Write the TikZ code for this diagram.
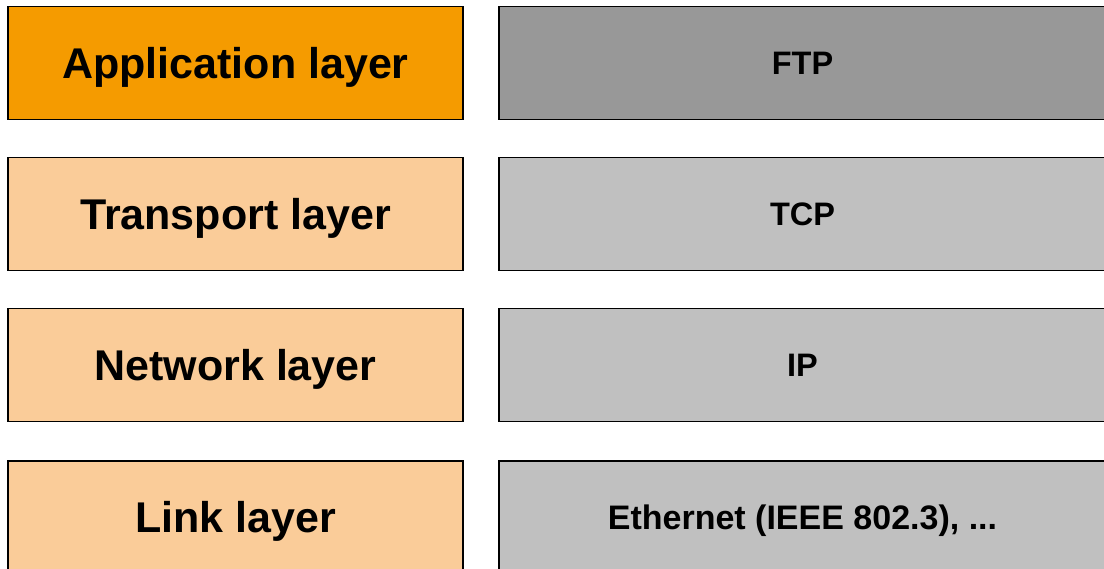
\documentclass[tikz,border=0pt]{standalone}
\usepackage{fontspec}
\setmainfont{Liberation Sans}
\definecolor{appor}{RGB}{245,155,0}
\definecolor{lightor}{RGB}{250,204,153}
\definecolor{darkgr}{RGB}{152,152,152}
\definecolor{lightgr}{RGB}{192,192,192}
\tikzset{
  anybox/.style={draw=black, line width=1.3pt, minimum height=113pt, inner sep=0pt,
    text depth=0pt, text=black},
  layerbox/.style={anybox, minimum width=455pt, text height=30.8pt, font=\fontsize{43}{50}\selectfont\bfseries},
  protobox/.style={anybox, minimum width=607pt, text height=23.3pt, font=\fontsize{32.5}{38}\selectfont\bfseries},
}
\begin{document}
\begin{tikzpicture}[x=1pt,y=-1pt]
\path[use as bounding box, clip] (0,0) rectangle (1104,569);
\fill[white] (0,0) rectangle (1104,569);
\node[layerbox, fill=appor]   (app)  at (235.5,63)    {Application layer};
\node[layerbox, fill=lightor] (tra)  at (235.5,214)   {Transport layer};
\node[layerbox, fill=lightor] (net)  at (235.5,365)   {Network layer};
\node[layerbox, fill=lightor] (lnk)  at (235.5,517.5) {Link layer};
\node[protobox, fill=darkgr]  (ftp)  at (802.5,63)    {FTP};
\node[protobox, fill=lightgr] (tcp)  at (802.5,214)   {TCP};
\node[protobox, fill=lightgr] (ip)   at (802.5,365)   {IP};
\node[protobox, fill=lightgr, text height=24.3pt, font=\fontsize{34}{40}\selectfont\bfseries] (eth)  at (802.5,517.5) {Ethernet (IEEE 802.3), ...};
\end{tikzpicture}
\end{document}
